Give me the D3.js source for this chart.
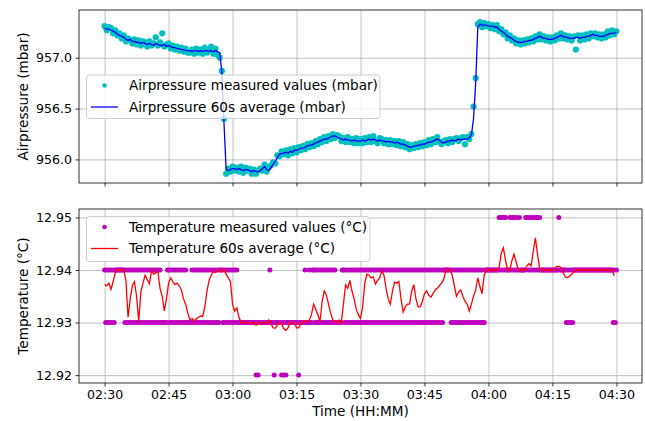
<!DOCTYPE html>
<html>
<head>
<meta charset="utf-8">
<script src="https://cdn.jsdelivr.net/npm/d3@7"></script>
<style>
  body { margin: 0; background: #fff; }
  svg { display: block; font-family: "DejaVu Sans", sans-serif; }
</style>
</head>
<body>
<svg id="chart" width="645" height="421"></svg>
<script>
// ---- data ----
const startTime = "2021-01-01 02:30";
const timeTicks = ["02:30", "02:45", "03:00", "03:15", "03:30", "03:45", "04:00", "04:15", "04:30"];
const pressureTicks = [956.0, 956.5, 957.0];
const tempTicks = [12.92, 12.93, 12.94, 12.95];

// air pressure, one value every 30 s from 02:30
const pressureMeasured = [
  957.31,957.27,957.30,957.29,957.24,957.27,957.22,957.24,957.19,957.22,
  957.16,957.19,957.17,957.14,957.18,957.13,957.17,957.12,957.16,957.15,
  957.11,957.16,957.12,957.14,957.20,957.12,957.15,957.24,957.11,957.13,
  957.14,957.09,957.12,957.08,957.11,957.07,957.10,957.06,957.09,957.05,
  957.05,957.08,957.04,957.09,957.05,957.08,957.04,957.10,957.05,957.08,
  957.11,957.04,957.09,957.03,957.00,956.87,956.40,955.86,955.91,955.88,
  955.93,955.89,955.92,955.88,955.93,955.87,955.92,955.89,955.91,955.86,
  955.90,955.86,955.89,955.91,955.89,955.95,955.88,955.92,955.94,955.97,
  955.96,956.04,956.03,956.08,956.05,956.09,956.04,956.10,956.06,956.11,
  956.07,956.12,956.09,956.13,956.10,956.15,956.12,956.16,956.13,956.18,
  956.15,956.20,956.17,956.22,956.18,956.23,956.20,956.25,956.21,956.24,
  956.23,956.18,956.21,956.17,956.22,956.17,956.20,956.16,956.21,956.16,
  956.20,956.16,956.21,956.17,956.22,956.17,956.23,956.18,956.16,956.21,
  956.20,956.16,956.19,956.15,956.19,956.15,956.18,956.14,956.18,956.13,
  956.17,956.12,956.15,956.10,956.14,956.11,956.15,956.12,956.16,956.13,
  956.17,956.14,956.19,956.15,956.20,956.17,956.22,956.17,956.15,956.18,
  956.19,956.16,956.20,956.17,956.20,956.21,956.18,956.21,956.22,956.15,
  956.22,956.20,956.25,956.52,956.80,957.33,957.35,957.30,957.34,957.31,
  957.33,957.29,957.32,957.28,957.32,957.26,957.28,957.23,957.25,957.19,
  957.22,957.17,957.19,957.14,957.17,957.13,957.17,957.14,957.18,957.15,
  957.19,957.16,957.21,957.18,957.23,957.18,957.21,957.17,957.20,957.16,
  957.20,957.17,957.22,957.19,957.24,957.19,957.22,957.18,957.21,957.17,
  957.21,957.08,957.22,957.17,957.22,957.18,957.23,957.19,957.24,957.21,
  957.24,957.20,957.23,957.19,957.23,957.20,957.26,957.22,957.27,957.23,
  957.26
];
const pressureAverage = [
  957.29,957.28,957.28,957.27,957.26,957.25,957.23,957.22,957.21,957.20,
  957.18,957.17,957.18,957.16,957.16,957.15,957.15,957.14,957.15,957.14,
  957.13,957.14,957.13,957.12,957.14,957.13,957.12,957.12,957.13,957.11,
  957.12,957.11,957.10,957.10,957.09,957.09,957.08,957.08,957.07,957.07,
  957.07,957.06,957.07,957.07,957.06,957.07,957.06,957.07,957.07,957.06,
  957.07,957.06,957.07,957.06,957.05,956.85,956.35,955.90,955.89,955.90,
  955.91,955.91,955.90,955.91,955.90,955.89,955.90,955.90,955.89,955.88,
  955.89,955.88,955.88,955.89,955.91,955.93,955.90,955.89,955.92,955.95,
  955.98,956.02,956.05,956.06,956.06,956.07,956.06,956.08,956.07,956.09,
  956.09,956.10,956.11,956.11,956.12,956.13,956.14,956.14,956.15,956.16,
  956.17,956.18,956.19,956.20,956.20,956.21,956.22,956.23,956.23,956.22,
  956.21,956.20,956.19,956.20,956.19,956.19,956.18,956.19,956.18,956.18,
  956.18,956.19,956.18,956.19,956.20,956.19,956.20,956.19,956.18,956.19,
  956.18,956.18,956.17,956.18,956.17,956.17,956.16,956.17,956.16,956.15,
  956.15,956.14,956.13,956.12,956.12,956.13,956.13,956.14,956.14,956.15,
  956.15,956.16,956.17,956.17,956.18,956.19,956.20,956.19,956.17,956.16,
  956.17,956.18,956.18,956.19,956.18,956.19,956.20,956.19,956.20,956.20,
  956.20,956.21,956.24,956.40,956.75,957.30,957.33,957.32,957.32,957.32,
  957.31,957.31,957.31,957.30,957.30,957.28,957.26,957.25,957.23,957.21,
  957.20,957.19,957.17,957.16,957.15,957.15,957.15,957.16,957.16,957.17,
  957.17,957.18,957.19,957.20,957.21,957.20,957.19,957.19,957.18,957.18,
  957.18,957.19,957.20,957.21,957.22,957.21,957.20,957.20,957.19,957.19,
  957.19,957.20,957.20,957.19,957.20,957.20,957.21,957.21,957.22,957.23,
  957.22,957.22,957.21,957.21,957.21,957.22,957.23,957.24,957.24,957.24,
  957.25
];

// temperature readings every 15 s, one group per minute; digit d = 12.9d °C
const tempMeasuredCodes = `
  4343 4343 4344 4444 4443 4343 4343 4343 4343 4343
  4343 4343 4343 4333 3334 4343 4343 4343 4343 4333
  3343 4343 4343 4343 4343 4343 4343 4443 4343 4343
  4343 4333 3333 3333 3333 3323 2333 3333 3334 3332
  3333 3323 2323 3333 3333 3323 3333 4333 4334 4343
  4343 4343 4343 4343 4333 3334 4343 4343 4343 4343
  4343 4343 4343 4343 4343 4343 4343 4343 4343 4343
  4343 4343 4343 4343 4343 4343 4343 4343 4343 4344
  4444 4343 4343 4343 4343 4343 4343 4343 4343 3444
  4444 4444 4454 5454 5444 5454 5454 4544 4445 5454
  5454 5454 5444 4444 4444 4444 4454 4444 4343 4343
  4444 4444 4444 4444 4444 4444 4444 4444 4444 4343
  4`;

// temperature 60 s average, one value every 30 s from 02:30
const tempAverage = [
  12.9372,12.9370,12.9375,12.9363,12.9378,12.9395,12.9400,12.9400,12.9400,12.9400,
  12.9380,12.9310,12.9345,12.9370,12.9378,12.9350,12.9302,12.9358,12.9375,12.9390,
  12.9382,12.9374,12.9398,12.9392,12.9395,12.9396,12.9365,12.9350,12.9322,12.9345,
  12.9375,12.9385,12.9378,12.9372,12.9375,12.9370,12.9362,12.9345,12.9335,12.9318,
  12.9305,12.9308,12.9303,12.9307,12.9310,12.9312,12.9312,12.9330,12.9360,12.9380,
  12.9390,12.9397,12.9395,12.9398,12.9400,12.9398,12.9400,12.9392,12.9385,12.9378,
  12.9335,12.9322,12.9328,12.9310,12.9300,12.9300,12.9300,12.9300,12.9300,12.9300,
  12.9298,12.9295,12.9298,12.9300,12.9300,12.9300,12.9300,12.9305,12.9298,12.9290,
  12.9289,12.9295,12.9300,12.9298,12.9288,12.9285,12.9290,12.9300,12.9300,12.9300,
  12.9290,12.9290,12.9298,12.9300,12.9302,12.9302,12.9305,12.9315,12.9335,12.9325,
  12.9315,12.9302,12.9340,12.9360,12.9352,12.9335,12.9318,12.9305,12.9302,12.9300,
  12.9305,12.9300,12.9335,12.9372,12.9365,12.9380,12.9360,12.9345,12.9325,12.9315,
  12.9308,12.9330,12.9375,12.9392,12.9390,12.9385,12.9387,12.9373,12.9380,12.9385,
  12.9398,12.9390,12.9365,12.9345,12.9335,12.9360,12.9377,12.9375,12.9378,12.9345,
  12.9320,12.9330,12.9335,12.9335,12.9360,12.9372,12.9345,12.9330,12.9330,12.9340,
  12.9355,12.9360,12.9352,12.9348,12.9355,12.9362,12.9365,12.9370,12.9375,12.9382,
  12.9398,12.9400,12.9400,12.9390,12.9370,12.9350,12.9358,12.9362,12.9350,12.9340,
  12.9335,12.9322,12.9335,12.9350,12.9362,12.9385,12.9368,12.9355,12.9390,12.9400,
  12.9400,12.9400,12.9400,12.9400,12.9400,12.9405,12.9432,12.9442,12.9418,12.9400,
  12.9400,12.9418,12.9430,12.9415,12.9400,12.9400,12.9400,12.9400,12.9408,12.9412,
  12.9408,12.9435,12.9461,12.9430,12.9402,12.9400,12.9400,12.9400,12.9400,12.9400,
  12.9400,12.9400,12.9407,12.9407,12.9405,12.9395,12.9387,12.9385,12.9388,12.9392,
  12.9396,12.9400,12.9400,12.9400,12.9400,12.9400,12.9400,12.9400,12.9400,12.9400,
  12.9400,12.9400,12.9400,12.9400,12.9400,12.9400,12.9400,12.9400,12.9400,12.9389
];

// ---- layout ----
const left = 79, right = 642;
const panels = [
  { top: 10, bottom: 183 },
  { top: 209, bottom: 383 }
];
const tickFont = "12.6px";
const labelFont = "13.6px";

const parse = d3.timeParse("%Y-%m-%d %H:%M");
const t0 = parse(startTime);
const at = sec => d3.timeSecond.offset(t0, sec);

const pressureData = pressureMeasured.map((v, i) => ({ t: at(i * 30), v }));
const pressureAvgData = pressureAverage.map((v, i) => ({ t: at(i * 30), v }));
const tempData = tempMeasuredCodes.replace(/\s/g, "").split("")
  .map((d, i) => ({ t: at(i * 15), v: +("12.9" + d) }));
const tempAvgData = tempAverage.map((v, i) => ({ t: at(i * 30), v }));

const tickDates = timeTicks.map(s => parse("2021-01-01 " + s));

const x = d3.scaleTime()
  .domain([d3.timeMinute.offset(t0, -6), d3.timeMinute.offset(t0, 126)])
  .range([left, right]);

const yP = d3.scaleLinear().domain([955.768, 957.469]).range([panels[0].bottom, panels[0].top]);
const yT = d3.scaleLinear().domain([12.9185, 12.9516]).range([panels[1].bottom, panels[1].top]);

const svg = d3.select("#chart");

function drawPanel(p, y, yTicks, fmt, showXLabels) {
  const g = svg.append("g");

  // grid
  g.append("g")
    .attr("transform", `translate(0,${p.bottom})`)
    .call(d3.axisBottom(x).tickValues(tickDates).tickSize(-(p.bottom - p.top)).tickFormat(""))
    .call(a => a.select(".domain").remove())
    .selectAll("line").attr("stroke", "#b0b0b0").attr("stroke-width", 0.8);
  g.append("g")
    .attr("transform", `translate(${left},0)`)
    .call(d3.axisLeft(y).tickValues(yTicks).tickSize(-(right - left)).tickFormat(""))
    .call(a => a.select(".domain").remove())
    .selectAll("line").attr("stroke", "#b0b0b0").attr("stroke-width", 0.8);

  // axes
  const xa = g.append("g")
    .attr("transform", `translate(0,${p.bottom})`)
    .call(d3.axisBottom(x).tickValues(tickDates).tickSize(3.5).tickPadding(3.5)
      .tickFormat(showXLabels ? d3.timeFormat("%H:%M") : ""));
  const ya = g.append("g")
    .attr("transform", `translate(${left},0)`)
    .call(d3.axisLeft(y).tickValues(yTicks).tickSize(3.5).tickPadding(3.5).tickFormat(d3.format(fmt)));
  [xa, ya].forEach(a => {
    a.select(".domain").remove();
    a.selectAll("line").attr("stroke", "#000").attr("stroke-width", 0.8);
    a.selectAll("text").attr("fill", "#000")
      .style("font-family", "DejaVu Sans").style("font-size", tickFont);
  });
  return g;
}

function drawFrame(p) {
  svg.append("rect")
    .attr("x", left).attr("y", p.top)
    .attr("width", right - left).attr("height", p.bottom - p.top)
    .attr("fill", "none").attr("stroke", "#000").attr("stroke-width", 0.8);
}

function drawLegend(box, rows) {
  const lg = svg.append("g");
  lg.append("rect")
    .attr("x", box.x).attr("y", box.y).attr("width", box.w).attr("height", box.h)
    .attr("rx", 3)
    .attr("fill", "#fff").attr("fill-opacity", 0.8)
    .attr("stroke", "#cccccc").attr("stroke-width", 1);
  rows.forEach((r, i) => {
    const cy = box.y + 10.5 + i * 21.5;
    if (r.kind === "dot") {
      lg.append("circle").attr("cx", 104.5).attr("cy", cy).attr("r", 2.3).attr("fill", r.color);
    } else {
      lg.append("line").attr("x1", 91).attr("x2", 118).attr("y1", cy).attr("y2", cy)
        .attr("stroke", r.color).attr("stroke-width", 1.3);
    }
    lg.append("text")
      .attr("x", 129).attr("y", cy).attr("dy", "0.36em")
      .style("font-size", labelFont).attr("fill", "#000")
      .text(r.label);
  });
}

// ---- top panel: air pressure ----
drawPanel(panels[0], yP, pressureTicks, ".1f", false);

svg.append("g").selectAll("circle")
  .data(pressureData)
  .join("circle")
  .attr("cx", d => x(d.t))
  .attr("cy", d => yP(d.v))
  .attr("r", 3.1)
  .attr("fill", "#00bfbf");

svg.append("path")
  .datum(pressureAvgData)
  .attr("fill", "none")
  .attr("stroke", "#0000ff")
  .attr("stroke-width", 1.3)
  .attr("d", d3.line().x(d => x(d.t)).y(d => yP(d.v)));

drawFrame(panels[0]);

// ---- bottom panel: temperature ----
drawPanel(panels[1], yT, tempTicks, ".2f", true);

svg.append("g").selectAll("circle")
  .data(tempData)
  .join("circle")
  .attr("cx", d => x(d.t))
  .attr("cy", d => yT(d.v))
  .attr("r", 2.5)
  .attr("fill", "#bf00bf");

svg.append("path")
  .datum(tempAvgData)
  .attr("fill", "none")
  .attr("stroke", "#ff0000")
  .attr("stroke-width", 1.3)
  .attr("d", d3.line().x(d => x(d.t)).y(d => yT(d.v)));

drawFrame(panels[1]);

// ---- legends ----
drawLegend({ x: 86.5, y: 75, w: 293.5, h: 43.5 }, [
  { kind: "dot", color: "#00bfbf", label: "Airpressure measured values (mbar)" },
  { kind: "line", color: "#0000ff", label: "Airpressure 60s average (mbar)" }
]);
drawLegend({ x: 86.5, y: 216.5, w: 283.5, h: 45 }, [
  { kind: "dot", color: "#bf00bf", label: "Temperature measured values (°C)" },
  { kind: "line", color: "#ff0000", label: "Temperature 60s average (°C)" }
]);

// ---- axis titles ----
svg.append("text")
  .attr("transform", `translate(23,${(panels[0].top + panels[0].bottom) / 2}) rotate(-90)`)
  .attr("text-anchor", "middle").attr("dy", "0.36em")
  .style("font-size", labelFont)
  .text("Airpressure (mbar)");
svg.append("text")
  .attr("transform", `translate(23,${(panels[1].top + panels[1].bottom) / 2}) rotate(-90)`)
  .attr("text-anchor", "middle").attr("dy", "0.36em")
  .style("font-size", labelFont)
  .text("Temperature (°C)");
svg.append("text")
  .attr("x", (left + right) / 2).attr("y", 411)
  .attr("text-anchor", "middle").attr("dy", "0.36em")
  .style("font-size", labelFont)
  .text("Time (HH:MM)");
</script>
</body>
</html>
